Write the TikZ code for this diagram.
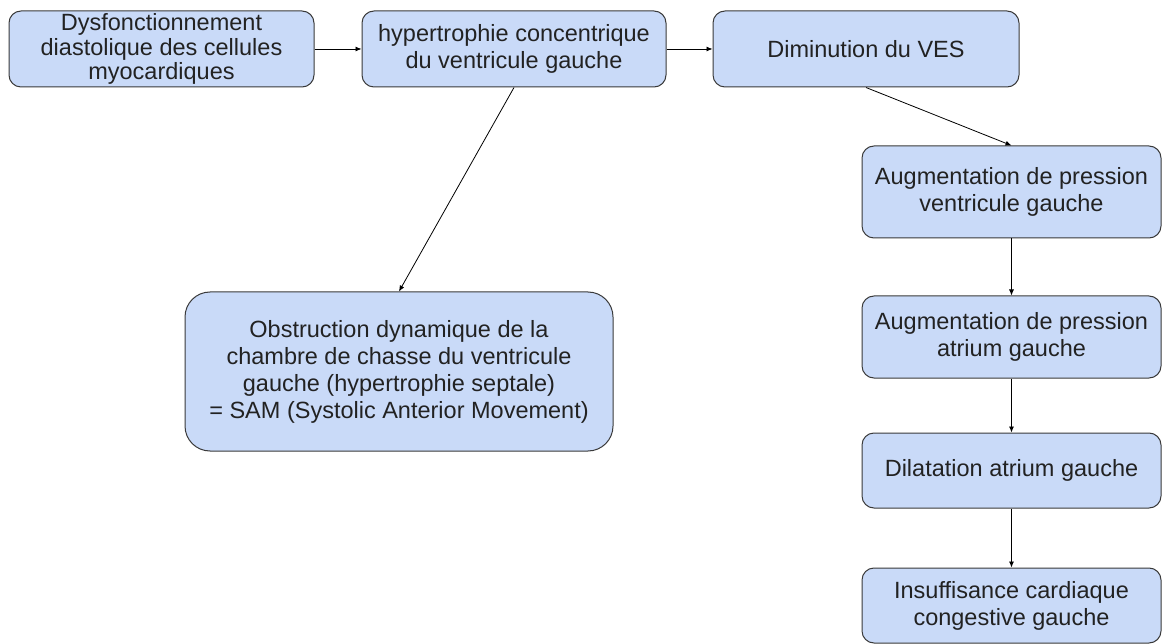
\documentclass[tikz,border=0pt]{standalone}
\usepackage{fontspec}
\setmainfont{Liberation Sans}
\usetikzlibrary{arrows.meta}
\definecolor{boxblue}{HTML}{C9DAF8}
\definecolor{boxline}{HTML}{3A3A3A}
\definecolor{txtgray}{HTML}{222222}
\begin{document}
\begin{tikzpicture}[x=1pt,y=-1pt,
    box/.style={draw=boxline,fill=boxblue,rounded corners=12pt,line width=1pt,
        align=center,text=txtgray,inner sep=0pt,
        font=\fontsize{23.5}{27}\selectfont},
    arr/.style={-{Latex[length=6pt,width=5pt]},black,line width=.8pt}]
    \useasboundingbox (0,0) rectangle (1162,644);
    % top row
    \node[box,minimum width=305pt,minimum height=76pt,
        font=\fontsize{23.5}{24.5}\selectfont] (dysf) at (161.5,49)
        {Dysfonctionnement\\diastolique des cellules\\myocardiques};
    \node[box,minimum width=304pt,minimum height=76pt] (hyper) at (514,49)
        {hypertrophie concentrique\\du ventricule gauche};
    \node[box,minimum width=306pt,minimum height=76pt] (ves) at (866,49)
        {Diminution du VES};
    % left branch
    \node[box,rounded corners=25pt,minimum width=428pt,minimum height=159pt] (obstr) at (399,371.5)
        {Obstruction dynamique de la\\chambre de chasse du ventricule\\gauche (hypertrophie septale)\\= SAM (Systolic Anterior Movement)};
    % right column
    \node[box,minimum width=299pt,minimum height=92pt] (pressvg) at (1011.5,192)
        {Augmentation de pression\\ventricule gauche};
    \node[box,minimum width=299pt,minimum height=82pt] (pressog) at (1011.5,337)
        {Augmentation de pression\\atrium gauche};
    \node[box,minimum width=299pt,minimum height=75pt] (dilat) at (1011.5,470.5)
        {Dilatation atrium gauche};
    \node[box,minimum width=299pt,minimum height=75pt] (insuff) at (1011.5,605.5)
        {Insuffisance cardiaque\\congestive gauche};
    % arrows
    \draw[arr] (dysf) -- (hyper);
    \draw[arr] (hyper) -- (ves);
    \draw[arr] (hyper.south) -- (obstr.north);
    \draw[arr] (ves.south) -- (pressvg.north);
    \draw[arr] (pressvg) -- (pressog);
    \draw[arr] (pressog) -- (dilat);
    \draw[arr] (dilat) -- (insuff);
\end{tikzpicture}
\end{document}
